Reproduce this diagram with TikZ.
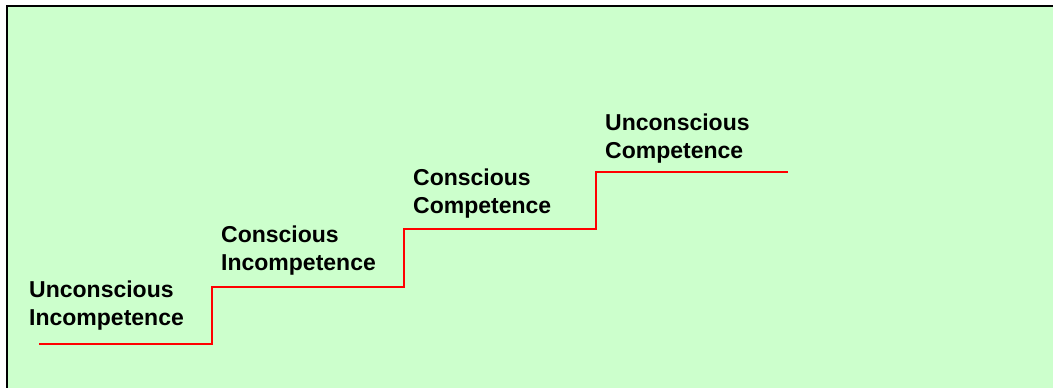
\documentclass[tikz,border=0pt]{standalone}
\usepackage{fontspec}
\setmainfont{Liberation Sans}
\usepackage{xcolor}
\usetikzlibrary{positioning}
\definecolor{stagegreen}{HTML}{CCFFCC}
\tikzset{
  stage/.style={anchor=north west, inner sep=0pt, align=left,
                font=\fontsize{23}{27.5}\selectfont\bfseries},
  stair/.style={red, line width=2pt},
  frameline/.style={black, line width=2.5pt},
}

\begin{document}
\begin{tikzpicture}[x=1pt, y=-1pt]
  \useasboundingbox[fill=white] (0,0) rectangle (1053,388);
  %% Panel
  \fill[stagegreen] (7,6) rectangle (1053,388);
  \draw[frameline] (7,388) -- (7,6) -- (1053,6);
  %% Stages
  \node[stage] (ui) at (29,281) {Unconscious\\Incompetence};
  \node[stage] (ci) at (221,226) {Conscious\\Incompetence};
  \node[stage] (cc) at (413,169) {Conscious\\Competence};
  \node[stage] (uc) at (605,114) {Unconscious\\Competence};
  %% Staircase
  \coordinate (st0) at (39,344);
  \coordinate (st1) at (212,344);
  \coordinate (st2) at (404,287);
  \coordinate (st3) at (596,229);
  \coordinate (st4) at (788,172);
  \draw[stair] (st0) -- (st1) |- (st2) |- (st3) |- (st4);
\end{tikzpicture}
\end{document}
